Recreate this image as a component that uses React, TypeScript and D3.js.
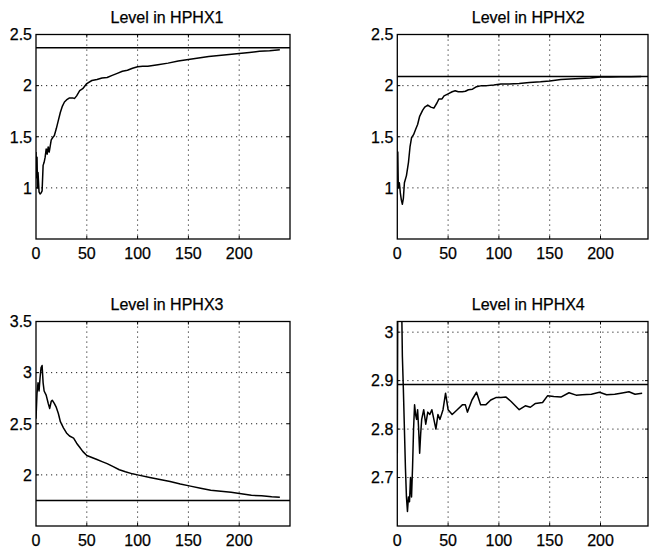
import * as d3 from 'd3';

// [iteration, level] pairs
const hphx1: [number, number][] = [
  [0, 1.35], [0.5, 1.1], [1, 1.3], [1.5, 1.0], [2, 1.15], [3, 0.96], [4, 0.94], [5, 0.95], [6, 0.97],
  [7, 1.22], [8, 1.25], [9, 1.3], [10, 1.38], [11, 1.33], [12, 1.4], [13, 1.35], [15, 1.47], [17, 1.5],
  [18, 1.51], [20, 1.58], [22, 1.66], [24, 1.74], [26, 1.8], [28, 1.84], [30, 1.86], [33, 1.88],
  [36, 1.88], [38, 1.875], [40, 1.9], [43, 1.95], [46, 1.97], [50, 2.02], [55, 2.05], [60, 2.06],
  [65, 2.075], [70, 2.08], [75, 2.1], [80, 2.12], [85, 2.14], [90, 2.15], [95, 2.17], [100, 2.185],
  [105, 2.19], [110, 2.19], [120, 2.205], [130, 2.22], [140, 2.24], [150, 2.255], [160, 2.27],
  [170, 2.285], [180, 2.295], [190, 2.305], [200, 2.315], [210, 2.325], [220, 2.335], [230, 2.34],
  [240, 2.35],
];

const hphx2: [number, number][] = [
  [0, 1.24], [0.5, 1.35], [1, 1.0], [2, 1.05], [3, 0.95], [4, 0.88], [5, 0.84], [6, 0.9], [7, 1.05],
  [9, 1.12], [11, 1.25], [12.5, 1.4], [14, 1.49], [16, 1.52], [18, 1.57], [20, 1.62], [22, 1.7],
  [25, 1.76], [27, 1.79], [30, 1.81], [33, 1.79], [36, 1.78], [39, 1.83], [41, 1.87], [44, 1.87],
  [46, 1.9], [50, 1.92], [54, 1.94], [57, 1.95], [60, 1.94], [64, 1.94], [67, 1.945], [70, 1.96],
  [74, 1.965], [78, 1.99], [83, 2.0], [88, 2.0], [95, 2.005], [102, 2.015], [110, 2.015], [120, 2.02],
  [130, 2.03], [141, 2.037], [150, 2.045], [161, 2.06], [170, 2.065], [180, 2.07], [190, 2.075],
  [200, 2.085], [210, 2.085], [220, 2.087], [230, 2.088], [240, 2.09],
];

const hphx3: [number, number][] = [
  [0, 2.55], [1, 2.8], [2, 2.9], [3, 2.82], [4, 2.95], [5, 3.05], [6, 3.07], [7, 2.9], [8, 2.82],
  [10, 2.78], [12, 2.7], [13.5, 2.65], [15, 2.72], [16, 2.73], [18, 2.7], [20, 2.66], [22, 2.6],
  [24, 2.52], [27, 2.46], [30, 2.41], [33, 2.38], [37, 2.36], [40, 2.31], [43, 2.27], [46, 2.23],
  [50, 2.19], [55, 2.17], [60, 2.15], [65, 2.13], [70, 2.11], [76, 2.08], [82, 2.05], [88, 2.03],
  [95, 2.01], [100, 2.0], [112, 1.975], [122, 1.955], [132, 1.935], [142, 1.91], [152, 1.89],
  [162, 1.87], [172, 1.85], [182, 1.84], [192, 1.83], [202, 1.815], [212, 1.8], [222, 1.795],
  [232, 1.785], [240, 1.78],
];

const hphx4: [number, number][] = [
  [0, 2.75], [0.5, 3.1], [4, 3.1], [5, 2.95], [6, 2.88], [8, 2.72], [9, 2.66], [10, 2.63], [11, 2.66],
  [12, 2.65], [13, 2.7], [14, 2.66], [15, 2.72], [16, 2.8], [17, 2.85], [18, 2.83], [19, 2.82],
  [20, 2.84], [21, 2.8], [22, 2.75], [23, 2.79], [24, 2.82], [26, 2.84], [28, 2.81], [30, 2.835],
  [32, 2.83], [34, 2.84], [36, 2.82], [38, 2.8], [40, 2.83], [42, 2.82], [45, 2.84], [47.5, 2.874],
  [50, 2.84], [54, 2.83], [59, 2.84], [64, 2.85], [67, 2.85], [69, 2.835], [73.5, 2.86], [78, 2.876],
  [82, 2.85], [87, 2.85], [92, 2.86], [97, 2.865], [102, 2.865], [107, 2.866], [112, 2.857],
  [120, 2.84], [126, 2.848], [131, 2.845], [136, 2.853], [143, 2.855], [148, 2.869], [154, 2.867],
  [161, 2.866], [169, 2.875], [176, 2.87], [182, 2.871], [191, 2.872], [199, 2.876], [206, 2.871],
  [214, 2.872], [220, 2.874], [228, 2.877], [234, 2.872], [241, 2.874],
];

const titles = ['Level in HPHX1', 'Level in HPHX2', 'Level in HPHX3', 'Level in HPHX4'];
const setpoints = [2.37, 2.09, 1.75, 2.892];
const yDomains: [number, number][] = [[0.5, 2.5], [0.5, 2.5], [1.5, 3.5], [2.6, 3.022]];
const yTickValues = [[1, 1.5, 2, 2.5], [1, 1.5, 2, 2.5], [2, 2.5, 3, 3.5], [2.7, 2.8, 2.9, 3]];
const xDomain: [number, number] = [0, 250];
const xTickValues = [0, 50, 100, 150, 200];
const seriesList = [hphx1, hphx2, hphx3, hphx4];

const W = 649;
const H = 548;
const font = '"Liberation Sans", Arial, Helvetica, sans-serif';

function Panel({ idx, left, top }: { idx: number; left: number; top: number }) {
  const pw = 254;
  const ph = 204.5;
  const x = d3.scaleLinear().domain(xDomain).range([left, left + pw]);
  const y = d3.scaleLinear().domain(yDomains[idx]).range([top + ph, top]);
  const right = Math.min(left + pw, W - 1);
  const line = d3
    .line<[number, number]>()
    .x((d) => x(d[0]))
    .y((d) => y(d[1]));
  const clipId = `clip-${idx}`;
  const gridX = xTickValues.filter((v) => v > xDomain[0]);
  const textProps = { fontFamily: font, fill: '#000', stroke: '#000', strokeWidth: 0.25 };
  return (
    <g>
      <defs>
        <clipPath id={clipId}>
          <rect x={left} y={top} width={right - left} height={ph} />
        </clipPath>
      </defs>
      <text x={left + pw / 2 + 4} y={top - 12} textAnchor="middle" fontSize={16} {...textProps}>
        {titles[idx]}
      </text>
      {/* dotted grid */}
      {gridX.map((v) => (
        <line key={`gx${v}`} x1={x(v)} x2={x(v)} y1={top} y2={top + ph} stroke="#222" strokeWidth={1} strokeDasharray="1.2 3.8" />
      ))}
      {yTickValues[idx].map((v) => (
        <line key={`gy${v}`} x1={left} x2={right} y1={y(v)} y2={y(v)} stroke="#222" strokeWidth={1} strokeDasharray="1.2 3.8" />
      ))}
      {/* inward ticks */}
      {gridX.map((v) => (
        <g key={`tx${v}`} stroke="#000" strokeWidth={1}>
          <line x1={x(v)} x2={x(v)} y1={top + ph} y2={top + ph - 3} />
          <line x1={x(v)} x2={x(v)} y1={top} y2={top + 3} />
        </g>
      ))}
      {yTickValues[idx].map((v) => (
        <g key={`ty${v}`} stroke="#000" strokeWidth={1}>
          <line x1={left} x2={left + 3} y1={y(v)} y2={y(v)} />
          <line x1={right} x2={right - 3} y1={y(v)} y2={y(v)} />
        </g>
      ))}
      {/* box */}
      <rect x={left} y={top} width={right - left} height={ph} fill="none" stroke="#000" strokeWidth={1.3} />
      {/* setpoint */}
      <line x1={left} x2={right} y1={y(setpoints[idx])} y2={y(setpoints[idx])} stroke="#000" strokeWidth={1.5} />
      <path d={line(seriesList[idx]) ?? ''} fill="none" stroke="#000" strokeWidth={1.5} strokeLinejoin="round" clipPath={`url(#${clipId})`} />
      {/* tick labels */}
      {xTickValues.map((v) => (
        <text key={`lx${v}`} x={x(v)} y={top + ph + 20} textAnchor="middle" fontSize={16} {...textProps}>
          {v}
        </text>
      ))}
      {yTickValues[idx].map((v) => (
        <text key={`ly${v}`} x={left - 4} y={y(v)} dy="0.36em" textAnchor="end" fontSize={16} {...textProps}>
          {String(v)}
        </text>
      ))}
    </g>
  );
}

export default function App() {
  return (
    <svg
      width={W}
      height={H}
      viewBox={`0 0 ${W} ${H}`}
      style={{ position: 'absolute', left: 0, top: 0, background: '#fff' }}
    >
      <rect width={W} height={H} fill="#fff" />
      <Panel idx={0} left={36} top={34.5} />
      <Panel idx={1} left={397.3} top={34.5} />
      <Panel idx={2} left={36} top={321.5} />
      <Panel idx={3} left={397.3} top={321.5} />
    </svg>
  );
}
